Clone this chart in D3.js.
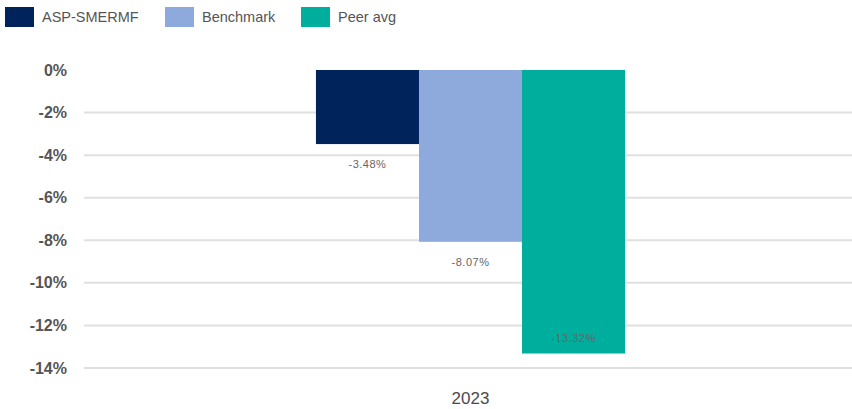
<!DOCTYPE html>
<html><head><meta charset="utf-8">
<script src="https://cdn.jsdelivr.net/npm/d3@7"></script>
<style>body{margin:0;background:#fff;font-family:"Liberation Sans",Arial,sans-serif;}</style>
</head><body>
<svg id="c" width="852" height="409"></svg>
<script>
const categories = ["2023"];
const seriesNames = ["ASP-SMERMF", "Benchmark", "Peer avg"];
const seriesColors = ["#00235c", "#8eaadc", "#00ae9e"];
const values = [[-3.48], [-8.07], [-13.32]];
const yTicks = [0, -2, -4, -6, -8, -10, -12, -14];

const svg = d3.select("#c");
const y = d3.scaleLinear().domain([0, -14]).range([70, 368]);
const x0 = d3.scaleBand().domain(categories).range([86, 855]).paddingInner(0).paddingOuter(0.744);
const x1 = d3.scaleBand().domain(seriesNames).range([0, x0.bandwidth()]).padding(0);

// legend
const leg = svg.append("g");
const legX = [5, 165, 301];
seriesNames.forEach((n, i) => {
  leg.append("rect").attr("x", legX[i]).attr("y", 7).attr("width", 29).attr("height", 20).attr("fill", seriesColors[i]);
  leg.append("text").attr("x", legX[i] + 37).attr("y", 22).attr("font-size", 14.5).attr("fill", "#555").text(n);
});

// grid
svg.append("g").selectAll("line").data(yTicks.filter(d => d !== 0)).join("line")
  .attr("x1", 84).attr("x2", 852).attr("y1", d => y(d)).attr("y2", d => y(d))
  .attr("stroke", "#e0e0e0").attr("stroke-width", 2);

// y axis
const ya = svg.append("g").attr("transform", "translate(67,0)")
  .call(d3.axisLeft(y).tickValues(yTicks).tickSize(0).tickPadding(0).tickFormat(d => (d === 0 ? "0" : "-" + Math.abs(d)) + "%"));
ya.select(".domain").remove();
ya.selectAll("text").attr("font-size", 16).attr("font-weight", "bold").attr("fill", "#555")
  .attr("font-family", "Liberation Sans, Arial, sans-serif");

// bars
const g = svg.append("g");
categories.forEach((c, ci) => {
  seriesNames.forEach((s, si) => {
    const v = values[si][ci];
    const bx = x0(c) + x1(s);
    g.append("rect").attr("x", bx).attr("y", y(0)).attr("width", x1.bandwidth())
      .attr("height", y(v) - y(0)).attr("fill", seriesColors[si]);
    const ly = Math.min(y(v) + 20, 338);
    g.append("text").attr("x", bx + x1.bandwidth() / 2).attr("y", ly + 4).attr("text-anchor", "middle")
      .attr("font-size", 11).attr("fill", "#666").attr("letter-spacing", 0.5)
      .text("-" + Math.abs(v).toFixed(2) + "%");
  });
});

// x axis labels
svg.append("g").selectAll("text").data(categories).join("text")
  .attr("x", d => x0(d) + x0.bandwidth() / 2).attr("y", 404).attr("text-anchor", "middle")
  .attr("font-size", 17).attr("fill", "#4a4a4a").text(d => d);
</script>
</body></html>
